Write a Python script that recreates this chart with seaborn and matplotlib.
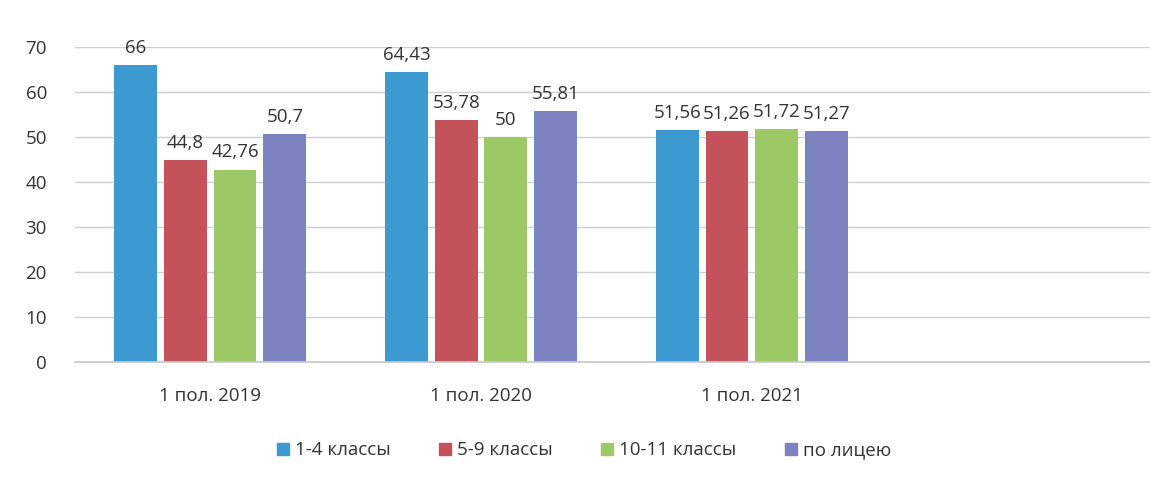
#!/usr/bin/env python3
import pandas as pd
import seaborn as sns
from matplotlib import pyplot as plt
from matplotlib.lines import Line2D

periods = ["1 пол. 2019", "1 пол. 2020", "1 пол. 2021"]
groups = ["1-4 классы", "5-9 классы", "10-11 классы", "по лицею"]
values = {
    "1-4 классы": [66, 64.43, 51.56],
    "5-9 классы": [44.8, 53.78, 51.26],
    "10-11 классы": [42.76, 50, 51.72],
    "по лицею": [50.7, 55.81, 51.27],
}
y_ticks = [0, 10, 20, 30, 40, 50, 60, 70]

colors = ["#3d9ad1", "#c4525a", "#9cc965", "#7c83c0"]


def main():
    sns.set_theme(style="white")
    plt.rcParams["font.family"] = ["Open Sans", "DejaVu Sans"]

    rows = []
    for g in groups:
        for p, v in zip(periods, values[g]):
            rows.append({"period": p, "group": g, "value": v})
    df = pd.DataFrame(rows)

    fig = plt.figure(figsize=(11.5, 4.91), dpi=100)
    ax = fig.add_axes([0.065, 0.263, 0.935, 0.641])
    sns.barplot(data=df, x="period", y="value", hue="group", order=periods,
                hue_order=groups, palette=colors, width=0.735, gap=0.14,
                saturation=1, linewidth=0, ax=ax, legend=False)

    for cont in ax.containers:
        ax.bar_label(cont, labels=[f"{v:g}".replace(".", ",") for v in cont.datavalues],
                     padding=6, fontsize=13.5, color="#333333", clip_on=False)

    ax.set_xlim(-0.5, 3.47)
    ax.set_ylim(0, 70)
    ax.set_yticks(y_ticks)
    ax.yaxis.grid(True, color="#cfcfcf", lw=1)
    ax.set_axisbelow(True)
    ax.set_xlabel("")
    ax.set_ylabel("")
    ax.tick_params(axis="y", labelsize=13.5, colors="#333333", pad=20, length=0)
    ax.tick_params(axis="x", labelsize=13.5, colors="#333333", pad=18, length=0)
    for side in ["left", "right", "top"]:
        ax.spines[side].set_visible(False)
    ax.spines["bottom"].set_color("#c8c8c8")

    handles = [Line2D([], [], marker="s", ls="", color=c, markersize=8) for c in colors]
    fig.legend(handles, groups, loc="center", bbox_to_anchor=(0.508, 0.083), ncol=4,
               frameon=False, fontsize=13.5, handlelength=0.6, handletextpad=0.35,
               columnspacing=2.6, labelcolor="#333333")

    fig.savefig("out.png", dpi=100)


if __name__ == "__main__":
    main()
